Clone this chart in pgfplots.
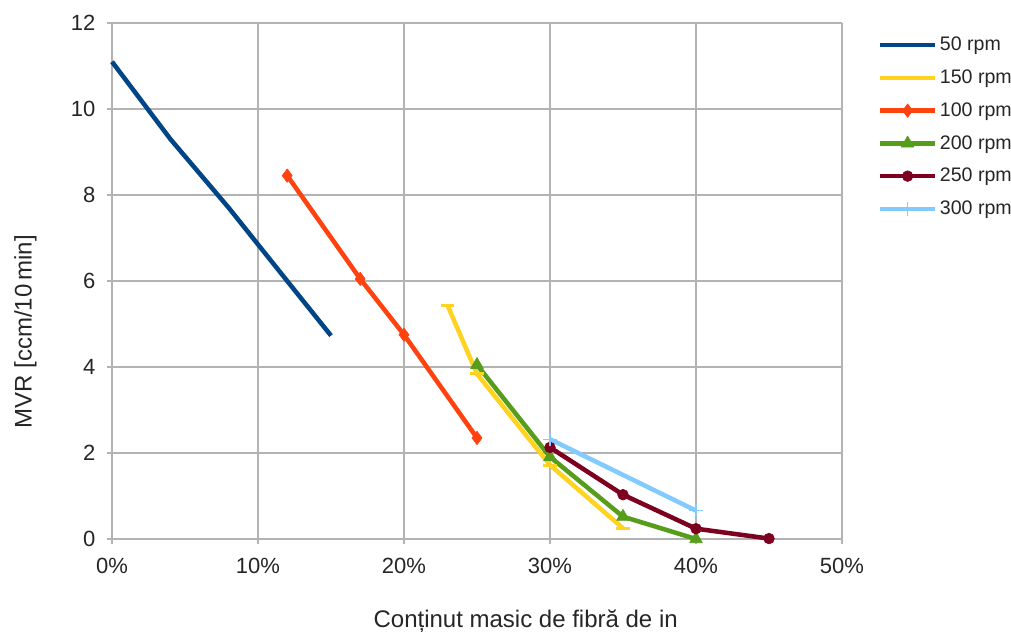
\documentclass[border=0pt]{standalone}
\usepackage{pgfplots}
\pgfplotsset{compat=1.18}
\usepackage{fontspec}
\setmainfont{Liberation Sans}

\definecolor{c50}{HTML}{004586}
\definecolor{c150}{HTML}{FFD320}
\definecolor{c100}{HTML}{FF420E}
\definecolor{c200}{HTML}{579D1C}
\definecolor{c250}{HTML}{7E0021}
\definecolor{c300}{HTML}{83CAFF}
\definecolor{gridc}{HTML}{B3B3B3}

\begin{document}
\begin{tikzpicture}
\useasboundingbox (-84pt,-69.75pt) rectangle (674.25pt,404.25pt);
\begin{axis}[
  scale only axis,
  width=547.5pt, height=387pt,
  xmin=0, xmax=50, ymin=0, ymax=12,
  xtick={0,10,20,30,40,50},
  xticklabels={0\%,10\%,20\%,30\%,40\%,50\%},
  ytick={0,2,4,6,8,10,12},
  /pgf/number format/assume math mode=true,
  tick label style={font=\fontsize{16.5}{18}\selectfont, text=black!85},
  xticklabel style={yshift=-7pt},
  yticklabel style={xshift=-5pt},
  grid=major,
  major grid style={gridc, line width=0.8pt},
  axis line style={gridc, line width=0.8pt},
  axis x line*=bottom, axis y line*=left,
  tick style={gridc, line width=0.8pt},
  tick align=outside,
  major tick length=4pt,
  xlabel={Conținut masic de fibră de in},
  ylabel={MVR [ccm/10\,min]},
  label style={font=\fontsize{18}{19}\selectfont, text=black!85},
  xlabel style={at={(axis description cs:0.5,0)}, anchor=center, xshift=36.5pt, yshift=-62pt},
  ylabel style={at={(axis description cs:0,0.5)}, anchor=center, xshift=-38pt, yshift=65pt},
  legend style={at={(axis description cs:1.049,0.978)}, anchor=north west,
    draw=none, fill=none, font=\fontsize{14.7}{16}\selectfont,
    row sep=8.8pt, inner sep=0pt, text=black!85},
  legend cell align=left,
  legend image code/.code={%
    \draw[#1, mark repeat=2, mark phase=2] plot coordinates {(0pt,0pt) (20.5pt,0pt) (41pt,0pt)};},
  every axis plot/.append style={line width=3.4pt, line join=round},
  clip=false,
]
% 50 rpm
\addplot[c50, mark=none] coordinates {(0,11.1) (4,9.3) (8,7.7) (12,6.0) (15,4.73)};
\addlegendentry{50 rpm}
% 150 rpm
\addplot[c150, mark=-, mark size=5pt, mark options={line width=2.2pt}] coordinates {(23,5.42) (25,3.84) (30,1.72) (35,0.25)};
\addlegendentry{150 rpm}
% 100 rpm
\addplot[c100, mark=diamond*, mark size=5pt, mark options={line width=0.5pt}] coordinates {(12,8.45) (17,6.05) (20,4.75) (25,2.35)};
\addlegendentry{100 rpm}
% 200 rpm
\addplot[c200, mark=triangle*, mark size=5.5pt, mark options={line width=0.5pt}] coordinates {(25,4.05) (30,1.91) (35,0.52) (40,0.0)};
\addlegendentry{200 rpm}
% 250 rpm
\addplot[c250, mark=*, mark size=4pt, mark options={line width=0.5pt}] coordinates {(30,2.13) (35,1.03) (40,0.24) (45,0.01)};
\addlegendentry{250 rpm}
% 300 rpm
\addplot[c300, mark=+, mark size=5pt, mark options={line width=1pt}] coordinates {(30,2.32) (40,0.66)};
\addlegendentry{300 rpm}
\end{axis}
\end{tikzpicture}
\end{document}
